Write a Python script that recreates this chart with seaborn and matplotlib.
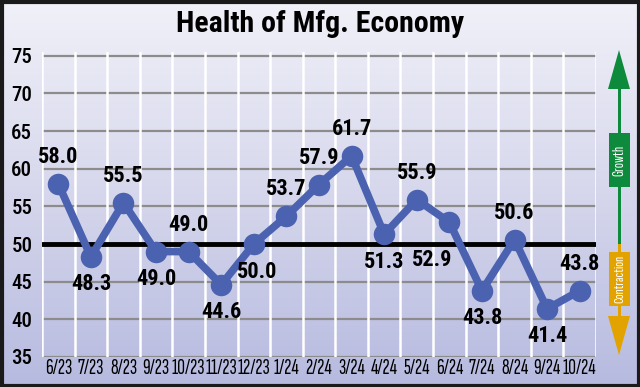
import matplotlib
matplotlib.use('Agg')
import matplotlib.pyplot as plt
import numpy as np
import pandas as pd
import seaborn as sns
from matplotlib.colors import LinearSegmentedColormap
from matplotlib.patches import Polygon, Rectangle

months = ['6/23', '7/23', '8/23', '9/23', '10/23', '11/23', '12/23', '1/24', '2/24',
          '3/24', '4/24', '5/24', '6/24', '7/24', '8/24', '9/24', '10/24']
pmi = [58.0, 48.3, 55.5, 49.0, 49.0, 44.6, 50.0, 53.7, 57.9,
       61.7, 51.3, 55.9, 52.9, 43.8, 50.6, 41.4, 43.8]
y_ticks = [35, 40, 45, 50, 55, 60, 65, 70, 75]
threshold = 50

# label placement (pixel offsets from each point)
label_offsets = [(0, 27), (0, -27), (0, 27), (0, -27), (0, 27), (0, -27), (3, -28), (0, 27), (0, 27),
                 (0, 27), (0, -28), (0, 27), (-17, -38), (0, -27), (0, 27), (0, -27), (0, 27)]

LINE_COLOR = '#4b62b0'
W, H = 640, 387
NARROW = ['Roboto Condensed', 'Liberation Sans Narrow', 'DejaVu Sans']
XNARROW = ['Sofia Sans Extra Condensed', 'Roboto Condensed', 'DejaVu Sans']

sns.set_style('white')
plt.rcParams['font.family'] = NARROW

fig = plt.figure(figsize=(W / 100, H / 100), dpi=100)

# gradient background over the whole figure
bg = fig.add_axes([0, 0, 1, 1], zorder=0)
cmap = LinearSegmentedColormap.from_list('bg', ['#f1f1f9', '#d6d7ec', '#b6badf'])
bg.imshow(np.linspace(0, 1, 256).reshape(-1, 1), aspect='auto', cmap=cmap,
          extent=[0, 1, 0, 1], origin='upper')
bg.set_axis_off()

ax = fig.add_axes([42 / W, (H - 357) / H, (596 - 42) / W, (357 - 52) / H], zorder=1)
ax.set_facecolor('none')

df = pd.DataFrame({'pos': np.arange(len(months)), 'pmi': pmi})

for y in y_ticks:
    if y == threshold:
        continue
    ax.axhline(y, color='#8c8c8c', lw=1.6, zorder=1)
for x in np.arange(-0.5, len(months), 1.0):
    ax.axvline(x, color='white', lw=1.8, zorder=1)
ax.axhline(threshold, color='black', lw=3.5, zorder=2)

sns.lineplot(data=df, x='pos', y='pmi', ax=ax, color=LINE_COLOR, lw=5.5,
             marker='o', markersize=15.5, markeredgewidth=0, zorder=3)

for i, v in enumerate(pmi):
    dx, dy = label_offsets[i]
    ax.annotate(f'{v:.1f}', (i, v), xytext=(dx, dy), textcoords='offset pixels',
                ha='center', va='center', fontsize=16, fontweight='bold', color='black', zorder=4)

ax.set_xlim(-0.5, len(months) - 0.5)
ax.set_ylim(35, 75.5)
ax.set_xticks(df['pos'])
ax.set_xticklabels(months, fontsize=15.5, fontweight='semibold', family=XNARROW)
ax.set_yticks(y_ticks)
ax.set_yticklabels([str(t) for t in y_ticks], fontsize=15, fontweight='medium')
ax.tick_params(axis='both', length=0, colors='black')
ax.tick_params(axis='y', pad=7)
ax.tick_params(axis='x', pad=1.5)
ax.set_xlabel('')
ax.set_ylabel('')
for s in ax.spines.values():
    s.set_visible(False)

# overlay for title, growth/contraction arrows and frame (pixel coords)
ov = fig.add_axes([0, 0, 1, 1], zorder=5)
ov.set_xlim(0, W)
ov.set_ylim(H, 0)
ov.set_axis_off()
ov.patch.set_alpha(0)

ov.text(W / 2, 24, 'Health of Mfg. Economy', ha='center', va='center',
        fontsize=21.5, fontweight='bold', color='black')

GREEN, ORANGE = '#0d8a3c', '#e2a300'
ax_x = 619
ov.add_patch(Rectangle((ax_x - 1.5, 86), 3, 244 - 86, color=GREEN, lw=0))
ov.add_patch(Polygon([(ax_x - 11, 89), (ax_x + 11, 89), (ax_x, 50)], color=GREEN, lw=0))
ov.add_patch(Rectangle((609, 133), 21, 54, color=GREEN, lw=0))
ov.text(619.5, 160, 'Growth', rotation=90, ha='center', va='center',
        fontsize=11, fontweight='bold', color='white', family=XNARROW)

ov.add_patch(Rectangle((ax_x - 1.5, 244), 3, 318 - 244, color=ORANGE, lw=0))
ov.add_patch(Polygon([(ax_x - 11, 316), (ax_x + 11, 316), (ax_x, 355)], color=ORANGE, lw=0))
ov.add_patch(Rectangle((609, 252), 21, 54, color=ORANGE, lw=0))
ov.text(619.5, 279, 'Contraction', rotation=90, ha='center', va='center',
        fontsize=10.5, fontweight='bold', color='white', family=XNARROW)

ov.add_patch(Rectangle((1.5, 1.5), W - 3, H - 3, fill=False, ec='#1a1a1a', lw=3))

fig.savefig('out.png', dpi=100)
